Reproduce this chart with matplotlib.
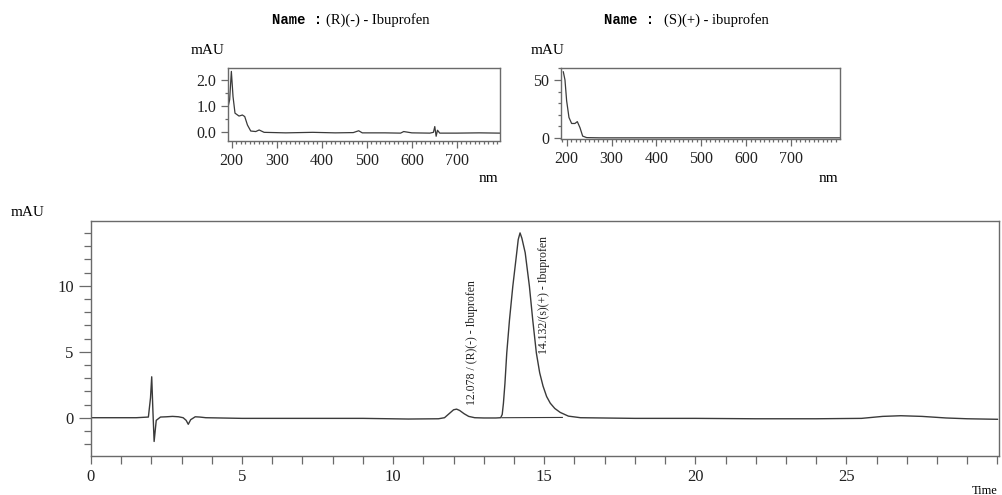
import matplotlib.pyplot as plt
import numpy as np
from matplotlib.ticker import MultipleLocator, FixedLocator

plt.rcParams["font.family"] = ["Liberation Serif", "DejaVu Serif"]

# chromatogram (time in min, signal in mAU)
time = [0, 1.5, 1.9, 1.97, 2.01, 2.05, 2.09, 2.16, 2.3, 2.5, 2.7, 2.9, 3.05,
        3.15, 3.22, 3.3, 3.45, 3.6, 3.8, 5, 7, 9, 10.5, 11.5, 11.7, 11.85,
        12.0, 12.1, 12.2, 12.35, 12.5, 12.7, 13.0, 13.4, 13.56, 13.61, 13.65,
        13.7, 13.76, 13.85, 13.96, 14.09, 14.14, 14.2, 14.26, 14.37, 14.51,
        14.62, 14.74, 14.85, 14.96, 15.08, 15.2, 15.35, 15.53, 15.8, 16.2, 18,
        20, 22, 24, 25.5, 26.2, 26.8, 27.5, 28.3, 29, 30]
signal = [0, 0, 0.05, 1.5, 3.1, 0.5, -1.8, -0.2, 0.05, 0.07, 0.1, 0.07, 0,
          -0.2, -0.5, -0.15, 0.07, 0.05, 0, -0.05, -0.05, -0.05, -0.1, -0.08,
          0.0, 0.3, 0.6, 0.65, 0.55, 0.3, 0.1, 0.0, -0.02, -0.02, 0.0, 0.25,
          1.1, 2.6, 4.9, 7.4, 9.95, 12.5, 13.5, 14.0, 13.6, 12.5, 9.95, 7.4,
          4.9, 3.4, 2.4, 1.6, 1.1, 0.7, 0.4, 0.12, 0.0, -0.05, -0.05, -0.08,
          -0.08, -0.05, 0.1, 0.15, 0.1, -0.02, -0.08, -0.12]
base_t = [13.6, 15.6]
base_v = [0.0, 0.02]

peak_times = [12.6, 15.0]
peak_label_y = [1.0, 4.8]
peak_labels = ["12.078 / (R)(-) - Ibuprofen", "14.132/(s)(+) - Ibuprofen"]

# UV spectra
nm_r = [191, 195.5, 199.3, 203, 207.4, 216.3, 223.8, 229, 235, 242.3, 253.5,
        261, 272, 320, 380, 430, 470, 482, 490, 540, 575, 582, 600, 640, 648,
        651, 654, 657, 662, 700, 750, 795]
abs_r = [0.9, 1.24, 2.32, 1.36, 0.73, 0.62, 0.66, 0.6, 0.28, 0.05, 0.03,
         0.09, 0.0, -0.02, 0.0, -0.02, -0.01, 0.06, -0.02, -0.02, -0.03,
         0.03, -0.02, -0.03, 0.0, 0.22, -0.15, 0.08, -0.03, -0.03, -0.02, -0.03]
nm_s = [192.6, 196.3, 200, 205.2, 211.1, 218.5, 223.8, 229.7, 235.7, 244.6,
        274.3, 400, 600, 809]
abs_s = [57, 50, 32, 17.6, 12.4, 12.4, 14, 8.8, 1.5, 0.2, 0.0, 0.0, 0.0, 0.0]

line_c = "#3a3a3a"
frame_c = "#6a6a6a"

fig = plt.figure(figsize=(10.03, 4.95), dpi=100)


def style_axes(ax, size):
    for s in ax.spines.values():
        s.set_color(frame_c)
        s.set_linewidth(1.0)
    ax.tick_params(which="both", direction="out", colors=frame_c,
                   labelcolor="#222222", labelsize=size, width=0.9)
    ax.tick_params(which="major", length=6)
    ax.tick_params(which="minor", length=4)


# main chromatogram
ax = fig.add_axes([0.0907, 0.0788, 0.9053, 0.4747])
ax.plot(time, signal, color=line_c, lw=1.0)
ax.plot(base_t, base_v, color=line_c, lw=0.8)
ax.set_xlim(0, 30.05)
ax.set_ylim(-2.9, 14.9)
ax.xaxis.set_major_locator(FixedLocator([0, 5, 10, 15, 20, 25]))
ax.xaxis.set_minor_locator(MultipleLocator(1))
ax.yaxis.set_major_locator(FixedLocator([0, 5, 10]))
ax.yaxis.set_minor_locator(MultipleLocator(1))
style_axes(ax, 12)
ax.tick_params(axis="x", which="both", length=6)
ax.tick_params(axis="y", which="major", length=9)
ax.tick_params(axis="y", which="minor", length=5)
for t, y, lab in zip(peak_times, peak_label_y, peak_labels):
    ax.text(t, y, lab, rotation=90, ha="center", va="bottom", fontsize=8.5,
            color="#222222")
fig.text(28 / 1003, 1 - 213 / 495, "mAU", ha="center", va="center",
         fontsize=11)
fig.text(985 / 1003, 1 - 491 / 495, "Time", ha="center", va="center",
         fontsize=9)

# inset spectra
insets = [
    ([0.2273, 1 - 141 / 495, 0.2712, 73 / 495], nm_r, abs_r, (191.8, 795.8),
     (-0.33, 2.45), [0.0, 1.0, 2.0], 0.5, "{:.1f}", "(R)(-) - Ibuprofen",
     (272, 326), (208, 488)),
    ([0.5593, 1 - 139 / 495, 0.2782, 71 / 495], nm_s, abs_s, (187.4, 809),
     (-1.0, 60.3), [0, 50], 10, "{:.0f}", "(S)(+) - ibuprofen",
     (604, 664), (548, 828)),
]
for rect, xs, ys, xl, yl, yt, ymin, fmt, name, tx, lx in insets:
    a = fig.add_axes(rect)
    a.plot(xs, ys, color=line_c, lw=0.9)
    a.set_xlim(*xl)
    a.set_ylim(*yl)
    a.xaxis.set_major_locator(FixedLocator([200, 300, 400, 500, 600, 700]))
    a.xaxis.set_minor_locator(MultipleLocator(10))
    a.yaxis.set_major_locator(FixedLocator(yt))
    a.yaxis.set_minor_locator(MultipleLocator(ymin))
    a.set_yticklabels([fmt.format(v) for v in yt])
    style_axes(a, 11.5)
    a.tick_params(which="major", length=5)
    a.tick_params(which="minor", length=2.5)
    fig.text(tx[0] / 1003, 1 - 20 / 495, "Name :", family="Liberation Mono",
             weight="bold", fontsize=10, ha="left", va="center")
    fig.text(tx[1] / 1003, 1 - 20 / 495, name, fontsize=10.5, ha="left",
             va="center")
    fig.text(lx[0] / 1003, 1 - 51 / 495, "mAU", fontsize=11, ha="center",
             va="center")
    fig.text(lx[1] / 1003, 1 - 178 / 495, "nm", fontsize=11, ha="center",
             va="center")

fig.savefig("out.png", dpi=100)
